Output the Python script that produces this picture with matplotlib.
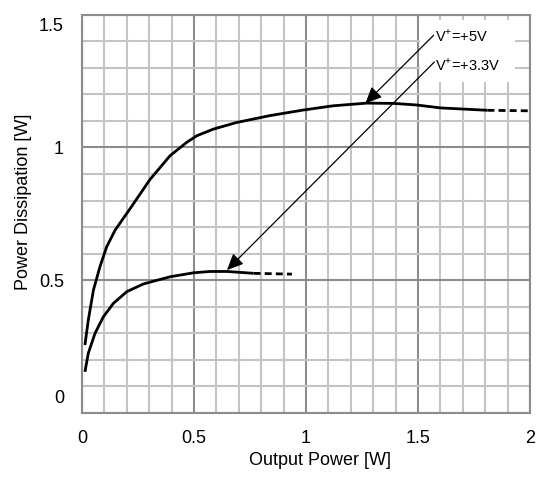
import matplotlib
matplotlib.use("Agg")
import matplotlib.pyplot as plt
import matplotlib.transforms as mtransforms
from matplotlib.patches import Rectangle

plt.rcParams["font.family"] = ["Liberation Sans", "DejaVu Sans"]

# Power dissipation vs output power, V+ = +5 V (measured, then extrapolated)
p_out_5v = [0.013, 0.028, 0.051, 0.08, 0.11, 0.148, 0.215, 0.304, 0.393, 0.467,
            0.512, 0.586, 0.69, 0.839, 0.988, 1.122, 1.271, 1.39, 1.494, 1.6, 1.81]
p_diss_5v = [0.256, 0.35, 0.463, 0.551, 0.626, 0.689, 0.770, 0.88, 0.969, 1.019,
             1.044, 1.069, 1.094, 1.12, 1.141, 1.157, 1.167, 1.166, 1.16, 1.149, 1.14]
p_out_5v_ext = [1.81, 2.0]
p_diss_5v_ext = [1.14, 1.138]

# Power dissipation vs output power, V+ = +3.3 V
p_out_33v = [0.013, 0.028, 0.058, 0.095, 0.14, 0.2, 0.274, 0.393, 0.498, 0.572,
             0.647, 0.766]
p_diss_33v = [0.155, 0.225, 0.30, 0.362, 0.413, 0.457, 0.486, 0.513, 0.528, 0.533,
              0.533, 0.526]
p_out_33v_ext = [0.766, 0.937]
p_diss_33v_ext = [0.526, 0.523]

x_ticks = [0, 0.5, 1, 1.5, 2]
x_tick_labels = ["0", "0.5", "1", "1.5", "2"]
y_ticks = [0, 0.5, 1, 1.5]
y_tick_labels = ["0", "0.5", "1", "1.5"]

label_5v = r"V$^{\mathregular{+}}$=+5V"
label_33v = r"V$^{\mathregular{+}}$=+3.3V"
# (text anchor, arrow tail, arrow tip) in data coordinates
ann_5v = ((1.578, 1.397), (1.57, 1.423), (1.265, 1.166))
ann_33v = ((1.578, 1.291), (1.573, 1.322), (0.647, 0.538))

fig = plt.figure(figsize=(5.45, 4.79), dpi=100)
ax = fig.add_axes([0.1505, 0.1378, 0.822, 0.8315])
ax.set_xlim(0, 2)
ax.set_ylim(0, 1.5)

# grid: light minor lines every 0.1, darker major lines every 0.5
minor_x = [i / 10 for i in range(1, 20)]
minor_y = [i / 10 for i in range(1, 15)]
ax.set_xticks(x_ticks)
ax.set_xticklabels(x_tick_labels)
ax.set_yticks(y_ticks)
ax.set_yticklabels(y_tick_labels)
ax.set_xticks(minor_x, minor=True)
ax.set_yticks(minor_y, minor=True)
ax.grid(which="minor", color="#c4c4c4", linewidth=1.5, zorder=0)
ax.grid(which="major", color="#8c8c8c", linewidth=1.5, zorder=0.5)
ax.set_axisbelow(True)
ax.tick_params(which="both", length=0)
ax.tick_params(axis="x", pad=12, labelsize=13)
ax.tick_params(axis="y", pad=13, labelsize=13)
for s in ax.spines.values():
    s.set_color("#8c8c8c")
    s.set_linewidth(1.5)

# nudge the end labels of the y axis inward
ylabels = ax.get_yticklabels()
ylabels[0].set_transform(ylabels[0].get_transform() +
                         mtransforms.ScaledTranslation(0, 16 / 100, fig.dpi_scale_trans))
ylabels[-1].set_transform(ylabels[-1].get_transform() +
                          mtransforms.ScaledTranslation(0, -10 / 100, fig.dpi_scale_trans))

ax.set_xlabel("Output Power [W]", fontsize=13)
ax.xaxis.set_label_coords(0.531, -0.098)
ax.set_ylabel("Power Dissipation [W]", fontsize=13)
ax.yaxis.set_label_coords(-0.112, 0.53)

lw = 2.0
ax.plot(p_out_5v, p_diss_5v, color="black", lw=lw, solid_capstyle="butt",
        solid_joinstyle="round", zorder=3)
ax.plot(p_out_5v_ext, p_diss_5v_ext, color="black", lw=lw, dashes=(2.5, 1.5), zorder=3)
ax.plot(p_out_33v, p_diss_33v, color="black", lw=lw, solid_capstyle="butt",
        solid_joinstyle="round", zorder=3)
ax.plot(p_out_33v_ext, p_diss_33v_ext, color="black", lw=lw, dashes=(2.5, 1.5), zorder=3)

# white panel behind the labels
ax.add_patch(Rectangle((0.754, 0.831), 0.213, 0.156, transform=ax.transAxes,
                       facecolor="white", edgecolor="none", zorder=1))

for text, (txt_xy, tail_xy, tip_xy) in ((label_5v, ann_5v), (label_33v, ann_33v)):
    ax.text(txt_xy[0], txt_xy[1], text, fontsize=10.5, ha="left", va="baseline", zorder=4)
    ax.annotate("", xy=tip_xy, xytext=tail_xy,
                arrowprops=dict(arrowstyle="-|>,head_length=1.0,head_width=0.45",
                                color="black", lw=0.9, shrinkA=0, shrinkB=0),
                zorder=4)

fig.savefig("out.png", dpi=100)
